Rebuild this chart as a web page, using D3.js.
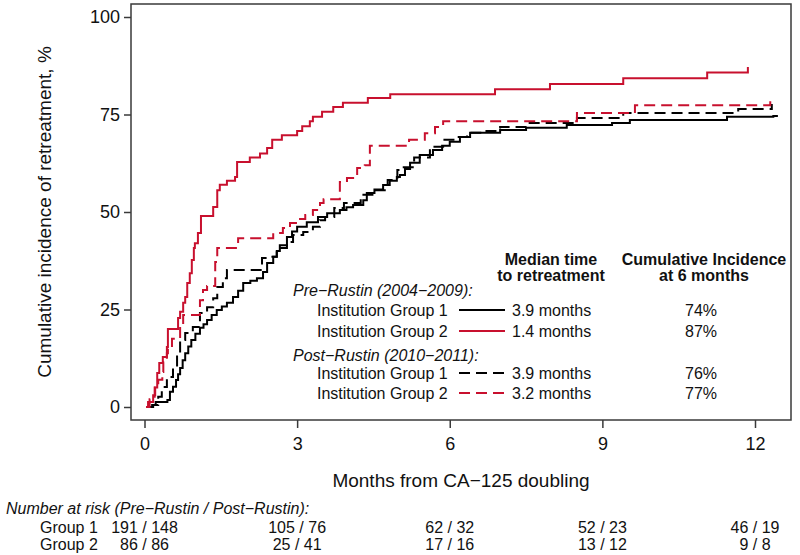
<!DOCTYPE html>
<html>
<head>
<meta charset="utf-8">
<script src="https://cdn.jsdelivr.net/npm/d3@7"></script>
<style>
  html, body { margin: 0; padding: 0; background: #fff; }
  svg { display: block; font-family: "Liberation Sans", Arial, sans-serif; }
</style>
</head>
<body>
<svg id="chart" width="800" height="555"></svg>
<script>
// ---------------- DATA ----------------
const xTicks = [0, 3, 6, 9, 12];
const yTicks = [0, 25, 50, 75, 100];

// step curves: [months, cumulative incidence %]
const preGroup1 = [
  [0.15, 0], [0.17, 0.5], [0.22, 1.3], [0.45, 1.8], [0.5, 3.9], [0.56, 5.2], [0.62, 6.9], [0.66, 8.4],
  [0.7, 10], [0.75, 12], [0.8, 13.8], [0.86, 15.5], [0.92, 17.2], [1.0, 18.8], [1.09, 20.3], [1.16, 21.2],
  [1.23, 22.3], [1.32, 23.6], [1.42, 24.9], [1.52, 25.8], [1.62, 26.7], [1.74, 28.2], [1.84, 29.8], [1.94, 31.8],
  [2.08, 32.4], [2.21, 33], [2.33, 34.6], [2.41, 36.9], [2.53, 38.5], [2.6, 40], [2.66, 41.5], [2.8, 43.6],
  [2.9, 45], [3.0, 46.2], [3.19, 47.4], [3.41, 48.7], [3.59, 49.7], [3.84, 50.5], [3.97, 51.2], [4.1, 51.8],
  [4.3, 53], [4.37, 54.9], [4.52, 55.8], [4.69, 56.9], [4.82, 58], [4.96, 59], [5.02, 59.5], [5.12, 61],
  [5.22, 62.6], [5.41, 64.6], [5.67, 65.9], [5.85, 67], [6.0, 68], [6.2, 69.2], [6.4, 70.3], [6.99, 71.0],
  [7.5, 71.6], [8.3, 72.3], [9.19, 72.8], [9.54, 73.6], [11.45, 74.4], [12.36, 74.6], [12.45, 74.6]
];
const preGroup2 = [
  [0.03, 0], [0.07, 1.3], [0.17, 3], [0.21, 5], [0.25, 8.7], [0.29, 11.3], [0.36, 12.8], [0.44, 15.4],
  [0.46, 20], [0.66, 22.8], [0.70, 24.4], [0.76, 26.7], [0.80, 28.2], [0.84, 31.8], [0.89, 34.3], [0.93, 37.7],
  [0.97, 40.8], [0.99, 42], [1.05, 44.6], [1.11, 49], [1.35, 51.3], [1.43, 55.6], [1.48, 57], [1.62, 58],
  [1.78, 59], [1.82, 62.8], [2.07, 64], [2.27, 65], [2.41, 66.4], [2.51, 68.5], [2.70, 69.7], [3.00, 70.8],
  [3.10, 72], [3.25, 73.3], [3.31, 74.4], [3.49, 75.7], [3.71, 76.9], [3.90, 78], [4.39, 79.2], [4.83, 80.2],
  [6.89, 81.5], [7.97, 82.8], [9.41, 84.3], [11.06, 85.8], [11.86, 87.2]
];
const postGroup1 = [
  [0.1, 0], [0.15, 0.5], [0.27, 2.6], [0.34, 5.1], [0.44, 7.7], [0.56, 10.3], [0.64, 13.8], [0.70, 17.2],
  [0.80, 19], [0.95, 20.5], [1.09, 24.1], [1.23, 25.6], [1.35, 27.9], [1.43, 30.8], [1.54, 33], [1.62, 35.1],
  [2.31, 38.2], [2.47, 38.5], [2.60, 40.8], [2.80, 42.3], [2.92, 44.1], [3.12, 44.9], [3.31, 46.2], [3.45, 47.9],
  [3.55, 48.7], [3.73, 51], [3.92, 52.3], [4.25, 54.4], [4.50, 55.6], [4.78, 58.2], [4.97, 60.8], [5.02, 61.5],
  [5.3, 64], [5.61, 66.7], [5.87, 68.5], [6.13, 69.2], [6.34, 70.3], [6.6, 70.8], [6.99, 71.8], [7.52, 72.8],
  [8.5, 74.1], [9.41, 75.4], [11.67, 76.4], [12.33, 77.7]
];
const postGroup2 = [
  [0.05, 0], [0.1, 2], [0.2, 5], [0.27, 7], [0.35, 9], [0.37, 11.5], [0.44, 13.8], [0.46, 15.4],
  [0.54, 17.5], [0.70, 21], [0.76, 23.6], [1.09, 27.4], [1.15, 30], [1.23, 31], [1.39, 37.2], [1.43, 40.8],
  [1.84, 43.3], [2.53, 44.6], [2.72, 45.9], [2.86, 47.2], [3.0, 48.2], [3.16, 49.2], [3.31, 50.5], [3.45, 52.3],
  [3.52, 53.3], [3.84, 57.7], [3.98, 58.7], [4.18, 61.3], [4.33, 62], [4.43, 67], [5.2, 68.5], [5.51, 70.2],
  [5.71, 71.8], [5.87, 73.3], [8.5, 75.4], [9.64, 77.4], [12.29, 77.4], [12.3, 78.5]
];

const legendPeriods = ["Pre\u2212Rustin (2004\u22122009):", "Post\u2212Rustin (2010\u22122011):"];
const legendLabels = ["Institution Group 1", "Institution Group 2", "Institution Group 1", "Institution Group 2"];
const legendMedians = ["3.9 months", "1.4 months", "3.9 months", "3.2 months"];
const legendIncidence = ["74%", "87%", "76%", "77%"];

const riskTitle = "Number at risk (Pre\u2212Rustin / Post\u2212Rustin):";
const riskGroups = ["Group 1", "Group 2"];
const riskGroup1 = ["191 / 148", "105 / 76", "62 / 32", "52 / 23", "46 / 19"];
const riskGroup2 = ["86 / 86", "25 / 41", "17 / 16", "13 / 12", "9 / 8"];

// ---------------- DRAW ----------------
const RED = "#c8102e";
const series = [
  { data: preGroup1, color: "#000", dash: null },
  { data: preGroup2, color: RED, dash: null },
  { data: postGroup1, color: "#000", dash: "11,6" },
  { data: postGroup2, color: RED, dash: "11,6" }
];

const svg = d3.select("#chart");
const box = { left: 131, top: 4, right: 791, bottom: 420 };

const x = d3.scaleLinear().domain([0, 12]).range([144.5, 755]);
const y = d3.scaleLinear().domain([0, 100]).range([407, 17]);

// plot frame
svg.append("rect")
  .attr("x", box.left).attr("y", box.top)
  .attr("width", box.right - box.left).attr("height", box.bottom - box.top)
  .attr("fill", "none").attr("stroke", "#3a3a3a").attr("stroke-width", 1.5);

// y axis
const yAxis = d3.axisLeft(y).tickValues(yTicks).tickSize(7).tickPadding(4).tickFormat(d3.format("d"));
const gy = svg.append("g").attr("transform", `translate(${box.left},0)`).call(yAxis);
gy.select(".domain").remove();
gy.selectAll(".tick line").attr("stroke", "#3a3a3a").attr("stroke-width", 1.5);
gy.selectAll(".tick text").attr("font-size", 18).attr("fill", "#111")
  .attr("font-family", "Liberation Sans, Arial, sans-serif");

// x axis
const xAxis = d3.axisBottom(x).tickValues(xTicks).tickSize(8).tickPadding(9).tickFormat(d3.format("d"));
const gx = svg.append("g").attr("transform", `translate(0,${box.bottom})`).call(xAxis);
gx.select(".domain").remove();
gx.selectAll(".tick line").attr("stroke", "#3a3a3a").attr("stroke-width", 1.5);
gx.selectAll(".tick text").attr("font-size", 18).attr("fill", "#111")
  .attr("font-family", "Liberation Sans, Arial, sans-serif");

// axis titles
svg.append("text")
  .attr("transform", `translate(51,${(box.top + box.bottom) / 2}) rotate(-90)`)
  .attr("text-anchor", "middle").attr("font-size", 19).attr("fill", "#111")
  .text("Cumulative incidence of retreatment, %");

svg.append("text")
  .attr("x", (box.left + box.right) / 2).attr("y", 487)
  .attr("text-anchor", "middle").attr("font-size", 19).attr("fill", "#111")
  .text("Months from CA\u2212125 doubling");

// curves
const line = d3.line().x(d => x(d[0])).y(d => y(d[1])).curve(d3.curveStepAfter);
series.forEach(s => {
  svg.append("path")
    .attr("d", line(s.data))
    .attr("fill", "none")
    .attr("stroke", s.color)
    .attr("stroke-width", 2)
    .attr("stroke-dasharray", s.dash)
    .attr("stroke-linejoin", "miter");
});

// legend
const lg = svg.append("g").attr("font-size", 16).attr("fill", "#111");
lg.append("text").attr("x", 551).attr("y", 265).attr("text-anchor", "middle").attr("font-weight", "bold").text("Median time");
lg.append("text").attr("x", 551).attr("y", 281).attr("text-anchor", "middle").attr("font-weight", "bold").text("to retreatment");
lg.append("text").attr("x", 704).attr("y", 265).attr("text-anchor", "middle").attr("font-weight", "bold").text("Cumulative Incidence");
lg.append("text").attr("x", 704).attr("y", 281).attr("text-anchor", "middle").attr("font-weight", "bold").text("at 6 months");

const periodY = [290, 355];
legendPeriods.forEach((p, i) => {
  lg.append("text").attr("x", 293).attr("y", periodY[i] + 6).attr("font-style", "italic").text(p);
});
const rowY = [310, 331, 373, 393];
rowY.forEach((ry, i) => {
  lg.append("text").attr("x", 317).attr("y", ry + 6).text(legendLabels[i]);
  lg.append("line").attr("x1", 459).attr("x2", 505).attr("y1", ry).attr("y2", ry)
    .attr("stroke", series[i].color).attr("stroke-width", 2)
    .attr("stroke-dasharray", series[i].dash);
  lg.append("text").attr("x", 512).attr("y", ry + 6).text(legendMedians[i]);
  lg.append("text").attr("x", 701).attr("y", ry + 6).attr("text-anchor", "middle").text(legendIncidence[i]);
});

// number at risk table
const rt = svg.append("g").attr("font-size", 16).attr("fill", "#111");
rt.append("text").attr("x", 6).attr("y", 514).attr("font-style", "italic").text(riskTitle);
const riskRows = [riskGroup1, riskGroup2];
const riskY = [533, 550];
riskRows.forEach((row, r) => {
  rt.append("text").attr("x", 40).attr("y", riskY[r]).text(riskGroups[r]);
  row.forEach((v, i) => {
    rt.append("text").attr("x", x(xTicks[i])).attr("y", riskY[r]).attr("text-anchor", "middle").text(v);
  });
});
</script>
</body>
</html>
